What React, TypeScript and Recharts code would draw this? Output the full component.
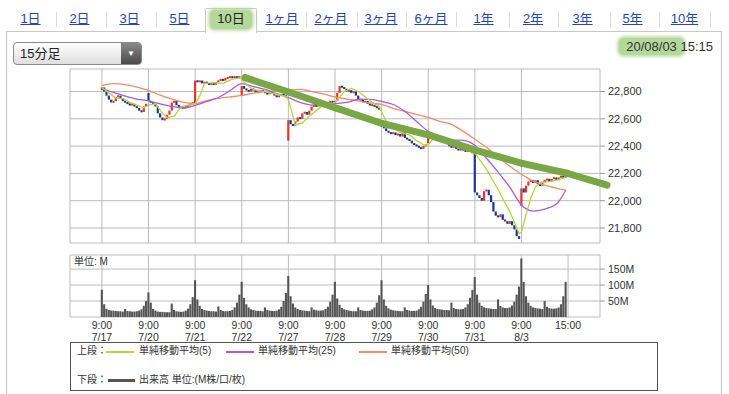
import React from 'react';
import { ComposedChart, Bar, Line, XAxis, YAxis, CartesianGrid, ReferenceLine } from 'recharts';

// ---------- data ----------
const tabLabels = ['1日', '2日', '3日', '5日', '10日', '1ヶ月', '2ヶ月', '3ヶ月', '6ヶ月', '1年', '2年', '3年', '5年', '10年'];
const activeTab = '10日';

const timeLabels = ['9:00', '9:00', '9:00', '9:00', '9:00', '9:00', '9:00', '9:00', '9:00', '9:00', '15:00'];
const dateLabels = ['7/17', '7/20', '7/21', '7/22', '7/27', '7/28', '7/29', '7/30', '7/31', '8/3', ''];
const xTicks = [0, 20, 40, 60, 80, 100, 120, 140, 160, 180, 200];
const priceTicks = [21800, 22000, 22200, 22400, 22600, 22800];
const volumeTicks = [50, 100, 150];

// first-bar open of each day
const dayOpens = [22810, 22790, 22710, 22770, 22440, 22720, 22590, 22420, 22360, 21960];

// 15-minute closes per day (20 bars)
const close0717 = [22830, 22800, 22770, 22740, 22720, 22730, 22760, 22770, 22750, 22730, 22720, 22710, 22700, 22710, 22690, 22680, 22660, 22650, 22690, 22710];
const close0720 = [22730, 22720, 22710, 22690, 22640, 22610, 22590, 22600, 22630, 22660, 22720, 22730, 22700, 22690, 22680, 22680, 22690, 22700, 22710, 22720];
const close0721 = [22880, 22870, 22880, 22860, 22870, 22860, 22850, 22860, 22850, 22870, 22880, 22890, 22880, 22900, 22900, 22910, 22900, 22910, 22900, 22910];
const close0722 = [22840, 22820, 22810, 22800, 22820, 22810, 22790, 22800, 22810, 22800, 22790, 22780, 22800, 22790, 22770, 22760, 22770, 22780, 22770, 22760];
const close0727 = [22590, 22560, 22550, 22580, 22610, 22600, 22640, 22650, 22630, 22660, 22690, 22700, 22690, 22710, 22710, 22720, 22710, 22720, 22730, 22720];
const close0728 = [22730, 22790, 22840, 22830, 22820, 22800, 22810, 22790, 22800, 22770, 22740, 22740, 22720, 22730, 22710, 22700, 22700, 22690, 22680, 22670];
const close0729 = [22560, 22530, 22510, 22500, 22490, 22500, 22480, 22490, 22470, 22500, 22460, 22450, 22440, 22420, 22410, 22400, 22390, 22380, 22400, 22410];
const close0730 = [22490, 22480, 22470, 22460, 22460, 22440, 22450, 22430, 22420, 22400, 22390, 22400, 22380, 22370, 22380, 22370, 22360, 22370, 22360, 22350];
const close0731 = [22060, 22040, 22020, 22000, 22070, 22080, 22040, 21990, 21920, 21890, 21880, 21900, 21860, 21850, 21830, 21850, 21820, 21790, 21740, 21720];
const close0803 = [22090, 22060, 22110, 22140, 22150, 22130, 22150, 22120, 22110, 22140, 22150, 22160, 22140, 22160, 22170, 22150, 22170, 22180, 22170, 22180];

// volume (M) per day (20 bars)
const vol0717 = [85, 40, 26, 22, 20, 20, 19, 18, 18, 17, 25, 19, 18, 17, 17, 18, 20, 24, 35, 50];
const vol0720 = [77, 45, 25, 20, 17, 16, 16, 15, 15, 15, 42, 22, 18, 17, 16, 17, 20, 26, 40, 62];
const vol0721 = [115, 55, 35, 25, 22, 20, 19, 18, 18, 17, 33, 22, 19, 18, 18, 19, 22, 30, 45, 70];
const vol0722 = [110, 60, 40, 30, 24, 22, 20, 19, 19, 18, 30, 22, 20, 19, 19, 20, 24, 32, 50, 75];
const vol0727 = [128, 65, 42, 30, 25, 22, 21, 20, 19, 18, 30, 23, 21, 20, 20, 21, 25, 32, 48, 70];
const vol0728 = [110, 58, 38, 28, 24, 22, 20, 19, 18, 18, 30, 22, 20, 19, 19, 20, 24, 30, 45, 68];
const vol0729 = [115, 55, 35, 27, 23, 21, 20, 19, 18, 18, 30, 22, 20, 19, 19, 20, 24, 32, 48, 72];
const vol0730 = [100, 55, 36, 28, 25, 24, 23, 22, 22, 21, 45, 28, 25, 24, 24, 25, 30, 40, 60, 85];
const vol0731 = [125, 70, 45, 35, 30, 28, 27, 26, 25, 25, 55, 35, 30, 28, 28, 30, 36, 48, 70, 95];
const vol0803 = [183, 110, 65, 45, 35, 30, 28, 27, 26, 25, 50, 32, 28, 26, 26, 27, 30, 40, 65, 110];

// moving averages
const maIdx = [0, 5, 10, 15, 20, 25, 30, 35, 40, 45, 50, 55, 60, 65, 70, 75, 80, 85, 90, 95, 100, 105, 110, 115, 120, 125, 130, 135, 140, 145, 150, 155, 160, 165, 170, 175, 180, 185, 190, 195, 199];
const ma25 = [22822, 22793, 22767, 22745, 22731, 22709, 22690, 22680, 22698, 22727, 22756, 22807, 22858, 22836, 22815, 22785, 22756, 22720, 22701, 22712, 22712, 22720, 22742, 22742, 22727, 22705, 22654, 22581, 22508, 22464, 22446, 22442, 22406, 22311, 22209, 22099, 21968, 21924, 21939, 21975, 22077];
const ma50 = [22844, 22858, 22851, 22833, 22807, 22774, 22745, 22720, 22712, 22734, 22749, 22760, 22771, 22789, 22800, 22807, 22811, 22815, 22800, 22782, 22760, 22745, 22731, 22716, 22705, 22676, 22654, 22632, 22610, 22581, 22559, 22508, 22450, 22391, 22318, 22253, 22194, 22143, 22114, 22092, 22077];
const ma5Idx = [0, 3, 6, 9, 12, 15, 18, 20, 23, 26, 28, 31, 34, 37, 40, 42, 44, 48, 52, 56, 59, 60, 62, 65, 70, 75, 79, 80, 81, 83, 86, 89, 92, 95, 99, 100, 102, 104, 107, 110, 113, 116, 119, 120, 122, 124, 128, 132, 135, 139, 140, 142, 145, 150, 155, 159, 160, 165, 170, 175, 179, 180, 182, 184, 186, 188, 192, 196, 199];
const ma5 = [22830, 22790, 22750, 22750, 22720, 22700, 22680, 22700, 22710, 22640, 22610, 22620, 22690, 22700, 22710, 22770, 22860, 22865, 22860, 22890, 22900, 22890, 22850, 22815, 22800, 22780, 22765, 22740, 22680, 22555, 22570, 22620, 22660, 22700, 22715, 22720, 22760, 22800, 22825, 22800, 22760, 22720, 22690, 22650, 22580, 22540, 22500, 22480, 22440, 22400, 22410, 22450, 22470, 22420, 22380, 22360, 22350, 22230, 22080, 21920, 21760, 21770, 21900, 22020, 22100, 22130, 22140, 22155, 22170];

// hand-drawn green trend stroke (bar index, price)
const trendIdx = [61.4, 80.7, 100.9, 120.2, 140.8, 160.5, 180.3, 199.6, 216.7];
const trendVal = [22902, 22793, 22676, 22566, 22479, 22369, 22274, 22201, 22114];

// ---------- derived tables ----------
const closes = [close0717, close0720, close0721, close0722, close0727, close0728, close0729, close0730, close0731, close0803].flat();
const volumes = [vol0717, vol0720, vol0721, vol0722, vol0727, vol0728, vol0729, vol0730, vol0731, vol0803].flat();
const rows = closes.map((c, i) => {
  const open = i % 20 === 0 ? dayOpens[i / 20] : closes[i - 1];
  return { i, open, close: c, body: [Math.min(open, c), Math.max(open, c)], vol: volumes[i] };
});
const ma5Data = ma5Idx.map((i, k) => ({ i, v: ma5[k] }));
const ma25Data = maIdx.map((i, k) => ({ i, v: ma25[k] }));
const ma50Data = maIdx.map((i, k) => ({ i, v: ma50[k] }));

// ---------- styles ----------
const FONT = '"Liberation Sans", Arial, "Noto Sans CJK JP", sans-serif';
const GRID = '#bcbcbc';
const UP = '#e8322d';
const DOWN = '#1b3596';
const C5 = '#b7d43c';
const C25 = '#a85ae2';
const C50 = '#f28a6c';
const GREEN = '#79a746';
const X_MIN = -13.7;
const X_MAX = 213.7;
const P_MIN = 21690;
const P_MAX = 22965;
const V_MAX = 194;

const tabCenters = [30.5, 79.5, 129.5, 179.5, 231, 282, 331, 381, 431, 483.5, 533, 582.5, 632.5, 684.5];
const tabSeps = [56, 106, 156, 306, 357, 406, 456, 509, 558, 610, 659, 710];

const fmtPrice = (v: number) => v.toLocaleString('en-US');

function Candle(props: any) {
  const { x, y, width, height, payload } = props;
  if (x == null || y == null || !payload) return null;
  const up = payload.close >= payload.open;
  const top = height < 0 ? y + height : y;
  const h = Math.max(Math.abs(height), 2);
  return <rect x={x} y={top - (h - Math.abs(height)) / 2} width={width} height={h} fill={up ? UP : DOWN} />;
}

function TimeTick(props: any) {
  const { x, y, payload } = props;
  const k = xTicks.indexOf(payload.value);
  if (k < 0) return null;
  return (
    <g>
      <text x={x} y={y + 12} textAnchor="middle" fontSize={10.5} fill="#333" fontFamily={FONT}>{timeLabels[k]}</text>
      <text x={x} y={y + 24} textAnchor="middle" fontSize={10.5} fill="#333" fontFamily={FONT}>{dateLabels[k]}</text>
    </g>
  );
}

export default function App() {
  const abs = (l: number, t: number, extra: React.CSSProperties = {}): React.CSSProperties => ({ position: 'absolute', left: l, top: t, ...extra });
  return (
    <div style={{ position: 'absolute', left: 0, top: 0, width: 729, height: 394, overflow: 'hidden', background: '#fff', fontFamily: FONT }}>
      {/* frame */}
      <div style={abs(6, 31, { width: 716, height: 400, borderTop: '1px solid #c8c8c8', borderLeft: '1px solid #c8c8c8', borderRight: '1px solid #c8c8c8', boxSizing: 'border-box' })} />
      {/* active tab */}
      <div style={abs(205, 8, { width: 52, height: 25, border: '1px solid #c8c8c8', borderBottom: 'none', background: '#fff', boxSizing: 'border-box', borderRadius: '2px 2px 0 0' })} />
      <div style={abs(210, 10, { width: 42, height: 19, background: '#b4d89a', borderRadius: 5, boxShadow: '0 0 3px 2px rgba(180,216,154,0.8)' })} />
      {tabSeps.map((x) => (
        <div key={x} style={abs(x, 12, { width: 1, height: 15, background: '#dcdcdc' })} />
      ))}
      {tabLabels.map((t, k) => (
        <div key={t} style={abs(tabCenters[k], 10, { transform: 'translateX(-50%)', fontSize: 13, lineHeight: '18px', whiteSpace: 'nowrap', color: t === activeTab ? '#222' : '#2745b2', textDecoration: t === activeTab ? 'none' : 'underline' })}>{t}</div>
      ))}

      {/* dropdown */}
      <div style={abs(13, 42, { width: 129, height: 23, border: '1px solid #8a8a8a', borderRadius: 4, background: 'linear-gradient(#ffffff, #dedede)', boxSizing: 'border-box', overflow: 'hidden' })}>
        <div style={{ position: 'absolute', left: 6, top: 0, fontSize: 13, lineHeight: '21px', color: '#222' }}>15分足</div>
        <div style={{ position: 'absolute', right: 0, top: 0, width: 20, height: 21, background: 'linear-gradient(#8a8a8a, #4a4a4a)', color: '#fff', fontSize: 8, lineHeight: '21px', textAlign: 'center' }}>▼</div>
      </div>

      {/* date */}
      <div style={abs(619, 38, { width: 65, height: 17, background: '#b4d89a', borderRadius: 5, boxShadow: '0 0 3px 2px rgba(180,216,154,0.8)' })} />
      <div style={{ position: 'absolute', right: 16, top: 38, fontSize: 13, lineHeight: '17px', color: '#333', whiteSpace: 'nowrap' }}>20/08/03 15:15</div>

      {/* price chart */}
      <div style={abs(0, 0)}>
        <ComposedChart width={729} height={250} data={rows} margin={{ top: 69, right: 79, bottom: 7, left: 70 }}>
          <CartesianGrid stroke={GRID} verticalValues={[X_MIN, ...xTicks, X_MAX]} horizontalValues={[P_MIN, ...priceTicks, P_MAX]} />
          <XAxis type="number" dataKey="i" domain={[X_MIN, X_MAX]} allowDataOverflow hide />
          <YAxis orientation="right" domain={[P_MIN, P_MAX]} allowDataOverflow ticks={priceTicks} interval={0} tickFormatter={fmtPrice} width={50} axisLine={false} tickLine={{ stroke: '#999' }} tickSize={5} tickMargin={3} tick={{ fontSize: 11, fill: '#333', fontFamily: FONT }} />
          <Bar dataKey="body" barSize={2.2} shape={(p: any) => <Candle {...p} />} isAnimationActive={false} />
          <Line data={ma50Data} dataKey="v" type="monotone" stroke={C50} strokeWidth={1.3} dot={false} activeDot={false} isAnimationActive={false} />
          <Line data={ma25Data} dataKey="v" type="monotone" stroke={C25} strokeWidth={1.3} dot={false} activeDot={false} isAnimationActive={false} />
          <Line data={ma5Data} dataKey="v" type="linear" stroke={C5} strokeWidth={1.3} dot={false} activeDot={false} isAnimationActive={false} />
          {trendIdx.slice(0, -1).map((x, k) => (
            <ReferenceLine key={k} segment={[{ x, y: trendVal[k] }, { x: trendIdx[k + 1], y: trendVal[k + 1] }]} stroke={GREEN} strokeWidth={7} strokeLinecap="round" ifOverflow="visible" />
          ))}
        </ComposedChart>
      </div>

      {/* volume chart */}
      <div style={abs(0, 250)}>
        <ComposedChart width={729} height={100} data={rows} margin={{ top: 5, right: 79, bottom: 0, left: 70 }}>
          <CartesianGrid stroke={GRID} verticalValues={[X_MIN, ...xTicks, X_MAX]} horizontalValues={[0, ...volumeTicks, V_MAX]} />
          <XAxis type="number" dataKey="i" domain={[X_MIN, X_MAX]} allowDataOverflow ticks={xTicks} interval={0} tick={(p: any) => <TimeTick {...p} />} tickLine={false} axisLine={false} tickSize={0} tickMargin={0} height={33} />
          <YAxis orientation="right" domain={[0, V_MAX]} allowDataOverflow ticks={volumeTicks} interval={0} tickFormatter={(v: number) => `${v}M`} width={50} axisLine={false} tickLine={{ stroke: '#999' }} tickSize={5} tickMargin={3} tick={{ fontSize: 10.5, fill: '#333', fontFamily: FONT }} />
          <Bar dataKey="vol" fill="#555555" barSize={2.6} isAnimationActive={false} />
        </ComposedChart>
      </div>
      <div style={abs(74, 256, { fontSize: 10, lineHeight: '12px', color: '#333' })}>単位: M</div>

      {/* legend */}
      <div style={abs(70, 342, { width: 588, height: 49, border: '1px solid #555', boxSizing: 'border-box' })} />
      <div style={abs(77, 344, { fontSize: 10, lineHeight: '14px', color: '#333' })}>上段：</div>
      <div style={abs(106, 351, { width: 28, height: 1.5, background: C5 })} />
      <div style={abs(139, 344, { fontSize: 10, lineHeight: '14px', color: '#333' })}>単純移動平均(5)</div>
      <div style={abs(226, 351, { width: 28, height: 1.5, background: C25 })} />
      <div style={abs(258, 344, { fontSize: 10, lineHeight: '14px', color: '#333' })}>単純移動平均(25)</div>
      <div style={abs(359, 351, { width: 28, height: 1.5, background: C50 })} />
      <div style={abs(391, 344, { fontSize: 10, lineHeight: '14px', color: '#333' })}>単純移動平均(50)</div>
      <div style={abs(77, 373, { fontSize: 10, lineHeight: '14px', color: '#333' })}>下段：</div>
      <div style={abs(108, 379, { width: 27, height: 3, background: '#555' })} />
      <div style={abs(139, 373, { fontSize: 10, lineHeight: '14px', color: '#333' })}>出来高 単位:(M株/口/枚)</div>
    </div>
  );
}
